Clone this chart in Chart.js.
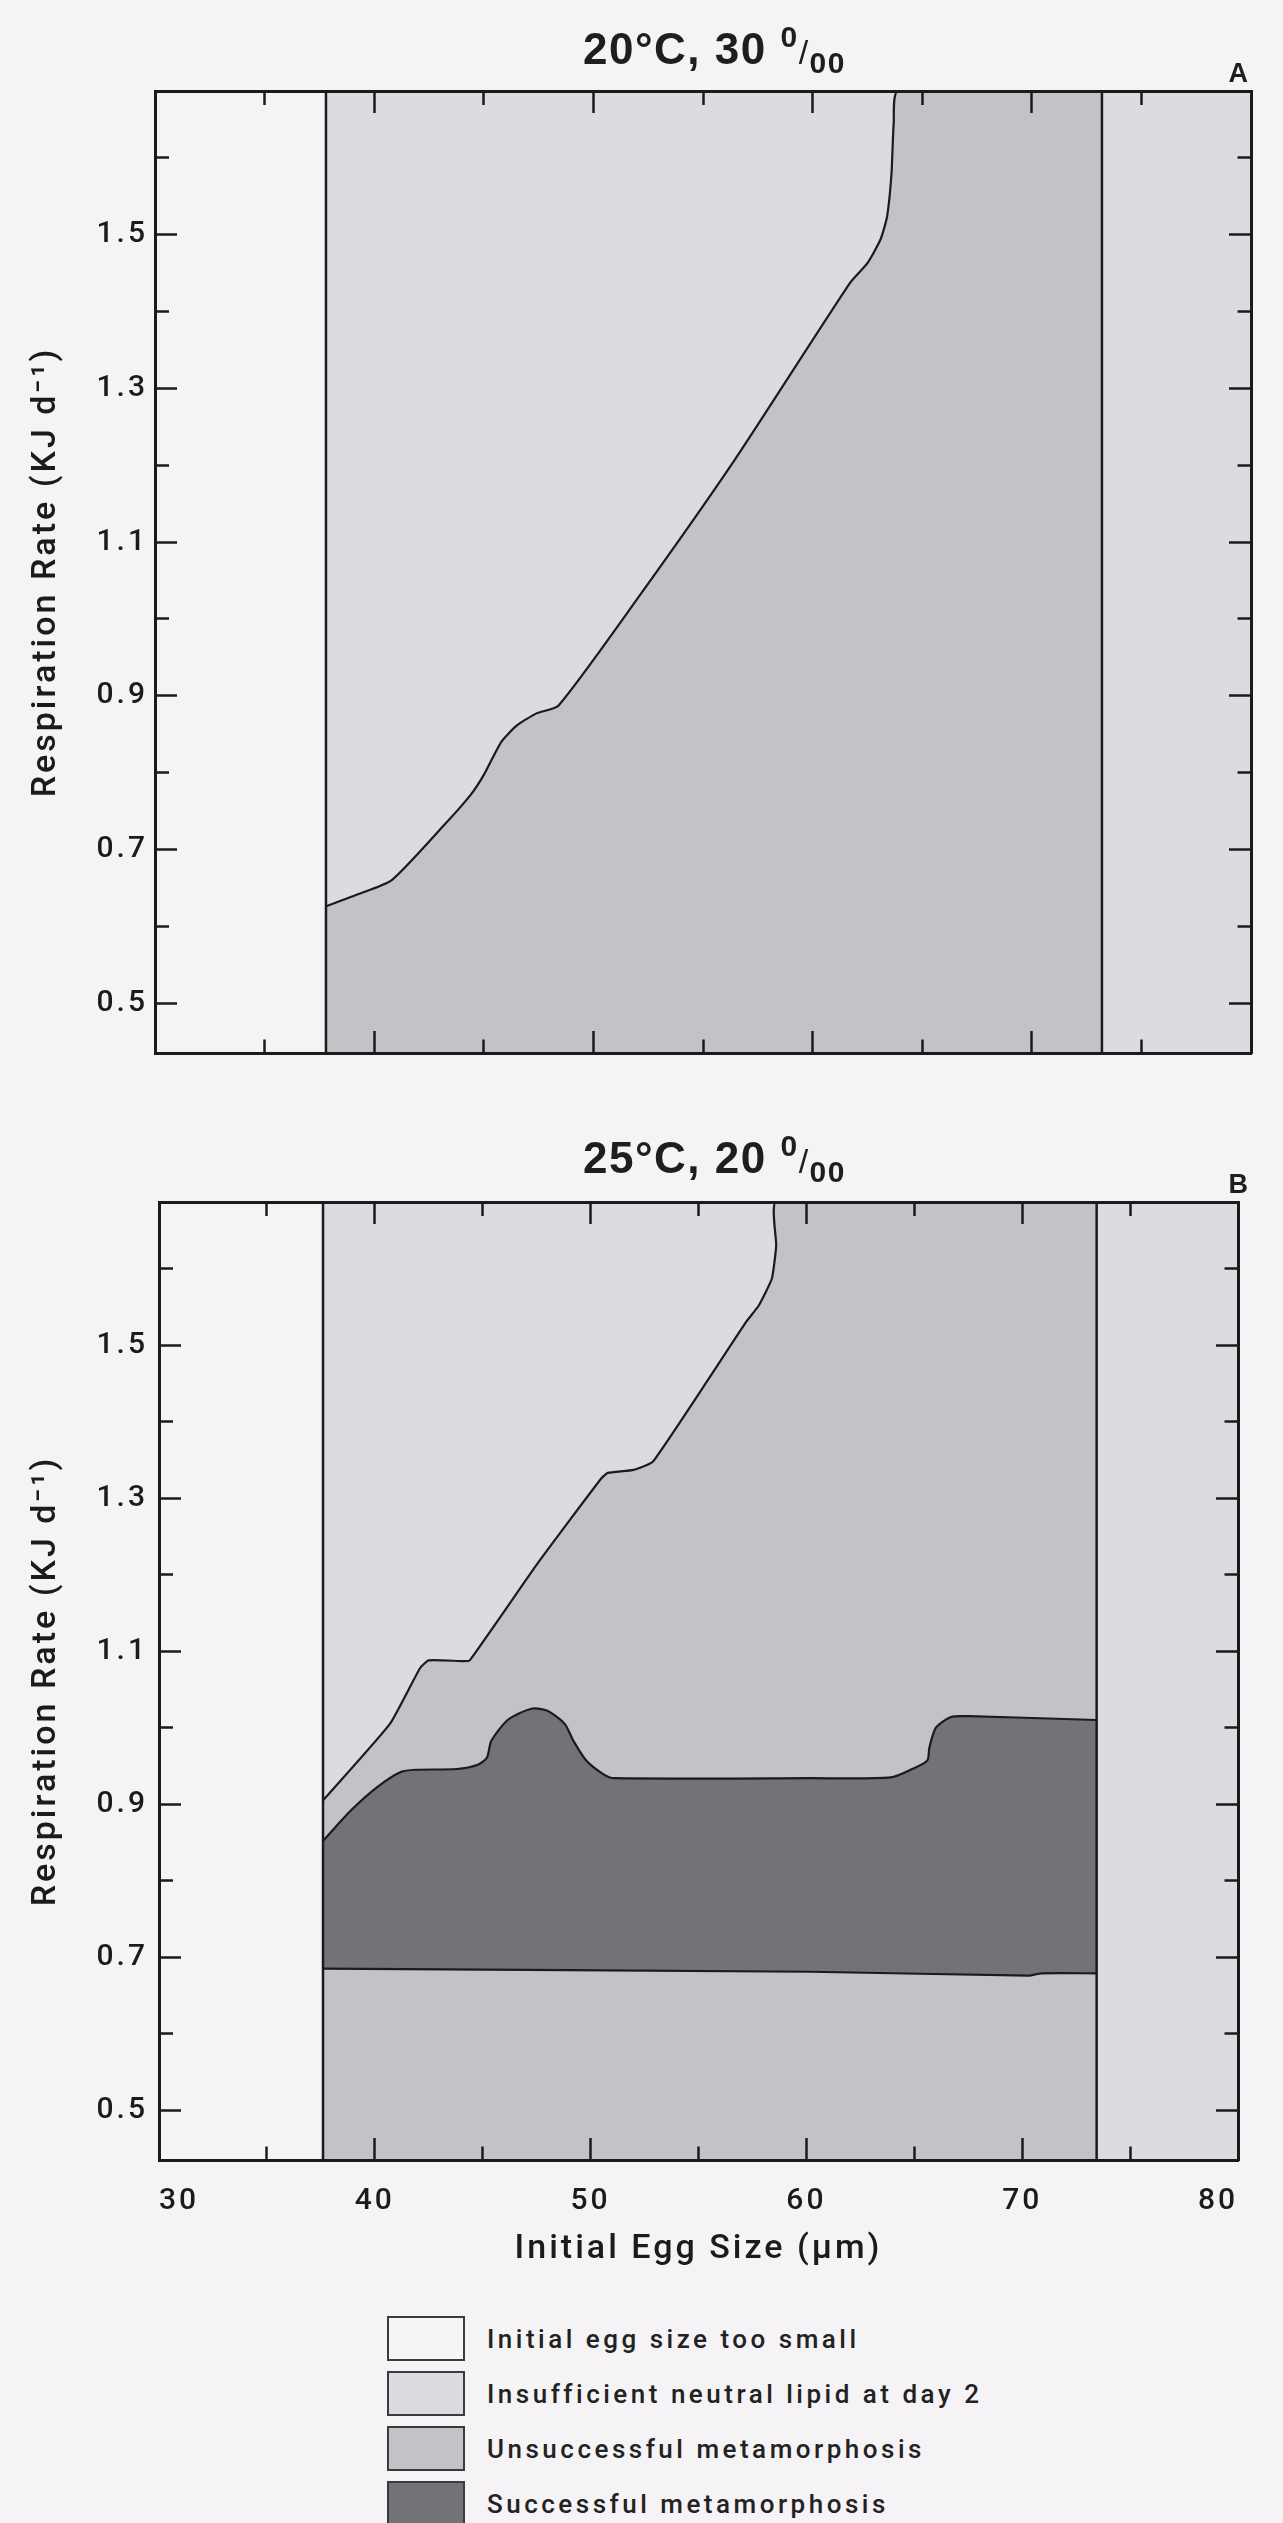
<!DOCTYPE html>
<html lang="en">
<head>
<meta charset="UTF-8">
<title>Initial egg size vs respiration rate</title>
<script src="https://cdn.jsdelivr.net/npm/chart.js"></script>
<style>
  body {
    margin: 0;
    background: #f5f3f6;
    font-family: 'Liberation Sans', Arial, sans-serif;
    color: #1e1e1e;
  }
  #figure { position: relative; width: 1283px; height: 2523px; overflow: hidden; }
  canvas { position: absolute; left: 0; }
  #panelA { top: 0; }
  #panelB { top: 1110px; }
  .panel-title {
    position: absolute;
    left: 583px;
    font-size: 44px;
    font-weight: bold;
    letter-spacing: 1.5px;
    line-height: 44px;
    white-space: nowrap;
    z-index: 2;
  }
  .panel-title .sup { font-size: 30px; position: relative; top: -17px; }
  .panel-title .slash { font-size: 34px; font-weight: normal; }
  .panel-title .sub { font-size: 30px; position: relative; top: 9px; }
  .panel-tag {
    position: absolute;
    right: 35px;
    font-size: 27px;
    font-weight: bold;
    line-height: 27px;
    z-index: 2;
  }
  #legend { position: absolute; left: 387px; top: 2316px; }
  .legend-row { display: flex; align-items: center; height: 45px; margin-bottom: 10px; }
  .swatch {
    width: 78px; height: 45px;
    box-sizing: border-box;
    border: 2.5px solid #3b3b3b;
    margin-right: 22px;
  }
  .legend-row span {
    font-family: Roboto, 'Liberation Sans', Arial, sans-serif;
    font-size: 26px; font-weight: 500; letter-spacing: 3.5px; color: #222;
  }
</style>
</head>
<body>
<div id="figure">
  <div class="panel-title" style="top:27px">20°C, 30 <span class="sup">0</span><span class="slash">/</span><span class="sub">00</span></div>
  <div class="panel-tag" style="top:60px">A</div>
  <canvas id="panelA" width="1283" height="1100"></canvas>

  <div class="panel-title" style="top:1136px">25°C, 20 <span class="sup">0</span><span class="slash">/</span><span class="sub">00</span></div>
  <div class="panel-tag" style="top:1171px">B</div>
  <canvas id="panelB" width="1283" height="1190"></canvas>

  <div id="legend"></div>
</div>

<script>
// axis ticks
const xTicks = [30, 35, 40, 45, 50, 55, 60, 65, 70, 75, 80];
const xLabelled = [30, 40, 50, 60, 70, 80];
const yTicks = [0.5, 0.6, 0.7, 0.8, 0.9, 1.0, 1.1, 1.2, 1.3, 1.4, 1.5, 1.6];
const yLabelled = [0.5, 0.7, 0.9, 1.1, 1.3, 1.5];

// outcome regions (legend order)
const regionNames = [
  'Initial egg size too small',
  'Insufficient neutral lipid at day 2',
  'Unsuccessful metamorphosis',
  'Successful metamorphosis'
];
const regionColors = ['#f6f4f7', '#dcdbe0', '#c3c2c7', '#737277'];

// A: 20 C, 30 ppt
const aEggRange = [37.8, 73.2];
const aLipidX = [37.8, 39.2, 40.8, 43.2, 44.4, 45.0, 45.8, 46.5, 47.4, 48.4, 52.0, 56.4, 61.7, 62.5, 63.1, 63.4, 63.6, 63.7, 63.9];
const aLipidY = [0.626, 0.641, 0.660, 0.732, 0.771, 0.797, 0.840, 0.861, 0.877, 0.887, 1.026, 1.205, 1.437, 1.463, 1.494, 1.524, 1.580, 1.645, 1.687];

// B: 25 C, 20 ppt
const bEggRange = [37.6, 73.45];
const bLipidX = [37.6, 40.7, 42.1, 42.5, 44.1, 44.4, 47.6, 50.5, 50.8, 52.0, 52.9, 57.2, 57.8, 58.4, 58.6, 58.6];
const bLipidY = [0.905, 1.005, 1.078, 1.088, 1.087, 1.088, 1.217, 1.326, 1.333, 1.337, 1.348, 1.530, 1.552, 1.587, 1.630, 1.687];
const bSuccessTopX = [37.6, 38.9, 40.1, 41.2, 41.9, 43.8, 44.8, 45.2, 45.4, 46.2, 47.3, 48.0, 48.8, 49.2, 49.8, 50.6, 51.1, 60.2, 63.9, 64.9, 65.6, 65.7, 66.0, 66.7, 67.5, 73.45];
const bSuccessTopY = [0.852, 0.892, 0.922, 0.942, 0.945, 0.946, 0.952, 0.961, 0.983, 1.011, 1.025, 1.022, 1.005, 0.983, 0.957, 0.939, 0.934, 0.934, 0.935, 0.946, 0.957, 0.974, 1.000, 1.014, 1.015, 1.010];
const bSuccessLowX = [37.6, 60.2, 70.3, 70.9, 73.45];
const bSuccessLowY = [0.685, 0.681, 0.676, 0.679, 0.679];

const Y_MIN = 0.435;
const Y_MAX = 1.687;
const INK = '#1b1b1b';
const MAJOR_TICK = 22;
const MINOR_TICK = 14;
const FONT = "Roboto, 'Liberation Sans', Arial, sans-serif";

const pts = (xs, ys) => xs.map((x, i) => ({ x: x, y: ys[i] }));

// minor ticks are shortened with a dash; left/top ticks are stroked from the inside out
function tickDash(major, fromBorder) {
  if (major) return [];
  return fromBorder ? [MINOR_TICK + 1.5, 200] : [0, MAJOR_TICK - MINOR_TICK, 200, 0];
}

function xAxis(position, size, withLabels) {
  return {
    type: 'linear', axis: 'x', position: position, min: 30, max: 80,
    afterBuildTicks: s => { s.ticks = xTicks.map(v => ({ value: v })); },
    afterFit: s => { s.height = size; },
    border: { display: true, color: INK, width: 3, z: 1 },
    grid: {
      z: 1,
      drawOnChartArea: false,
      tickLength: -MAJOR_TICK,
      tickWidth: 2.5,
      tickColor: c => (c.tick && (c.tick.value === 30 || c.tick.value === 80)) ? 'rgba(0,0,0,0)' : INK,
      tickBorderDash: c => tickDash(c.tick && c.tick.value % 10 === 0, position === 'bottom')
    },
    ticks: {
      display: withLabels, align: 'inner', autoSkip: false, maxRotation: 0,
      padding: 45, color: INK,
      font: { family: FONT, size: 30, weight: '500' },
      callback: v => xLabelled.includes(v) ? String(v) : ''
    },
    title: {
      display: withLabels, text: 'Initial Egg Size (µm)', color: INK,
      font: { family: FONT, size: 34, weight: '500' },
      padding: { top: 0, bottom: 30 }
    }
  };
}

function yAxis(position, size, withLabels) {
  return {
    type: 'linear', axis: 'y', position: position, min: Y_MIN, max: Y_MAX,
    afterBuildTicks: s => { s.ticks = yTicks.map(v => ({ value: v })); },
    afterFit: s => { s.width = size; },
    border: { display: true, color: INK, width: 3, z: 1 },
    grid: {
      z: 1,
      drawOnChartArea: false,
      tickLength: -MAJOR_TICK,
      tickWidth: 2.5,
      tickColor: INK,
      tickBorderDash: c => tickDash(c.tick && yLabelled.includes(c.tick.value), position === 'right')
    },
    ticks: {
      display: withLabels, autoSkip: false,
      padding: size - 126, color: INK,
      font: { family: FONT, size: 30, weight: '500' },
      callback: v => yLabelled.includes(v) ? v.toFixed(1) : ''
    },
    title: {
      display: withLabels, text: 'Respiration Rate (KJ d⁻¹)', color: INK,
      font: { family: FONT, size: 34, weight: '500' },
      padding: { top: 26, bottom: 0 }
    }
  };
}

function edgeLine(x) {
  return {
    data: [{ x: x, y: Y_MIN }, { x: x, y: Y_MAX }],
    borderColor: INK, borderWidth: 2.5, fill: false, order: 0
  };
}

function region(points, color, order, tension) {
  return {
    data: points,
    backgroundColor: color,
    borderColor: INK,
    borderWidth: 2.2,
    fill: 'start',
    tension: tension || 0,
    order: order
  };
}

function lightBand(from) {
  return {
    data: [{ x: from, y: Y_MAX }, { x: 80, y: Y_MAX }],
    backgroundColor: regionColors[1],
    borderWidth: 0,
    fill: 'start',
    order: 9
  };
}

// wider tracking on the axis text
const tracking = {
  id: 'tracking',
  beforeUpdate: chart => { chart.ctx.letterSpacing = '3px'; },
  beforeDraw: chart => { chart.ctx.letterSpacing = '3px'; }
};

function panel(id, datasets, frame) {
  return new Chart(document.getElementById(id), {
    type: 'line',
    data: { datasets: datasets },
    options: {
      responsive: false,
      animation: false,
      layout: { padding: 0, autoPadding: false },
      elements: { point: { radius: 0, hoverRadius: 0 } },
      plugins: { legend: { display: false }, tooltip: { enabled: false } },
      events: [],
      scales: {
        x: xAxis('bottom', frame.bottom, frame.labels),
        xTop: xAxis('top', frame.top, false),
        y: yAxis('left', frame.left, true),
        yRight: yAxis('right', frame.right, false)
      }
    },
    plugins: [tracking]
  });
}

panel('panelA', [
  edgeLine(aEggRange[0]),
  edgeLine(aEggRange[1]),
  region(pts(aLipidX, aLipidY).concat([{ x: aEggRange[1], y: Y_MAX }]), regionColors[2], 1, 0.2),
  lightBand(aEggRange[0])
], { top: 91, bottom: 45, left: 155, right: 32, labels: false });

panel('panelB', [
  edgeLine(bEggRange[0]),
  edgeLine(bEggRange[1]),
  region(pts(bSuccessLowX, bSuccessLowY), regionColors[2], 1, 0.2),
  region(pts(bSuccessTopX, bSuccessTopY), regionColors[3], 2, 0.25),
  region(pts(bLipidX, bLipidY).concat([{ x: bEggRange[1], y: Y_MAX }]), regionColors[2], 3, 0.15),
  lightBand(bEggRange[0])
], { top: 92, bottom: 140, left: 159, right: 30, labels: true });

// legend
const legend = document.getElementById('legend');
regionNames.forEach((name, i) => {
  const row = document.createElement('div');
  row.className = 'legend-row';
  row.innerHTML = '<div class="swatch" style="background:' + regionColors[i] + '"></div><span>' + name + '</span>';
  legend.appendChild(row);
});
</script>
</body>
</html>
